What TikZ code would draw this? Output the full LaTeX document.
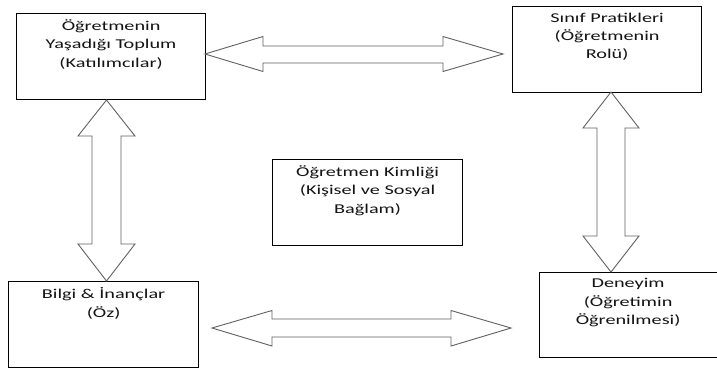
\documentclass[tikz,border=0pt]{standalone}
\usepackage{fontspec}
\setmainfont[FakeStretch=1.5]{Carlito}
\begin{document}
\begin{tikzpicture}[x=1pt,y=-1pt,
  box/.style={draw=black,line width=1.2pt,inner sep=0pt,anchor=north west},
  txt/.style={anchor=north,align=center,inner sep=0pt,text=black!92,font=\fontsize{13.5}{18.3}\selectfont},
  blockarrow/.style={draw=black!62,line width=0.9pt,fill=white,line join=miter}]
\path[use as bounding box,fill=white] (0,0) rectangle (717,370);
\clip (0,0) rectangle (717,370);
% boxes
\node[box,minimum width=189pt,minimum height=86pt] (b1) at (16,13) {};
\node[box,minimum width=189pt,minimum height=86pt] (b2) at (512,6) {};
\node[box,minimum width=190pt,minimum height=86pt] (b3) at (8,281) {};
\node[box,minimum width=183pt,minimum height=85pt] (b4) at (539,272) {};
\node[box,minimum width=190pt,minimum height=86pt] (bc) at (272,159) {};
% texts
\node[txt,yshift=-6.5pt] (t1) at (b1.north) {Öğretmenin\\Yaşadığı Toplum\\(Katılımcılar)};
\node[txt,yshift=-6.5pt] (t2) at (b2.north) {Sınıf Pratikleri\\(Öğretmenin\\Rolü)};
\node[txt,yshift=-6.5pt] (t3) at (b3.north) {Bilgi \& İnançlar\\(Öz)};
\node[txt,yshift=-6.5pt,xshift=-3pt] (t4) at (b4.north) {Deneyim\\(Öğretimin\\Öğrenilmesi)};
\node[txt,yshift=-6.5pt] (tc) at (bc.north) {Öğretmen Kimliği\\(Kişisel ve Sosyal\\Bağlam)};
% block arrows
\draw[blockarrow] (205,54) -- (263,36.5) -- (263,46) -- (443,46) -- (443,36.5) -- (503,54)
  -- (443,71.5) -- (443,63) -- (263,63) -- (263,71.5) -- cycle;
\draw[blockarrow] (212,328) -- (272,310.5) -- (272,319) -- (451,319) -- (451,310.5) -- (511,328)
  -- (451,346) -- (451,337) -- (272,337) -- (272,346) -- cycle;
\draw[blockarrow] (106.5,100) -- (135,136) -- (121,136) -- (121,244) -- (135,244) -- (106.5,281)
  -- (78,244) -- (92,244) -- (92,136) -- (78,136) -- cycle;
\draw[blockarrow] (611,92) -- (639,128) -- (625,128) -- (625,236) -- (639,236) -- (611,272)
  -- (583,236) -- (597,236) -- (597,128) -- (583,128) -- cycle;
\end{tikzpicture}
\end{document}
